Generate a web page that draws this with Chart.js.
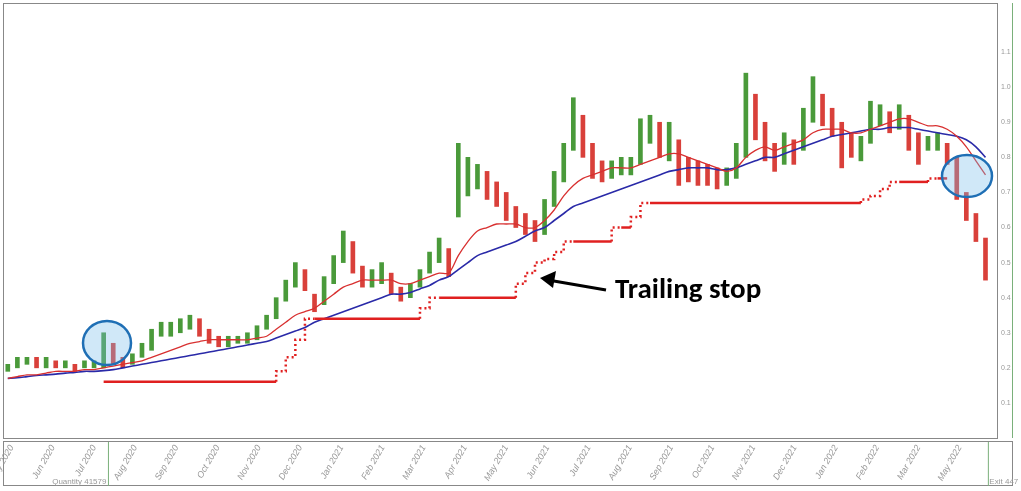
<!DOCTYPE html>
<html>
<head>
<meta charset="utf-8">
<script src="https://cdn.jsdelivr.net/npm/chart.js@4"></script>
<style>
  body { margin: 0; background: #fff; }
  #wrap { width: 1021px; height: 491px; }
</style>
</head>
<body>
<div id="wrap"><canvas id="c"></canvas></div>
<script>
// weekly bars, May 2020 - May 2022
const closes = [
  0.20,0.22,0.22,0.21,0.22,0.21,0.21,0.20,0.21,0.21,
  0.27,0.23,0.21,0.23,0.25,0.29,0.31,0.31,0.32,0.33,
  0.31,0.29,0.27,0.28,0.28,0.28,0.31,0.33,0.37,0.44,
  0.47,0.44,0.37,0.44,0.49,0.56,0.50,0.45,0.46,0.47,
  0.43,0.41,0.43,0.47,0.51,0.55,0.49,0.72,0.72,0.76,
  0.72,0.70,0.65,0.63,0.61,0.58,0.66,0.73,0.80,0.93,
  0.85,0.78,0.76,0.77,0.78,0.78,0.86,0.88,0.85,0.88,
  0.79,0.77,0.76,0.75,0.74,0.74,0.80,0.95,0.88,0.84,
  0.79,0.84,0.82,0.90,0.98,0.93,0.90,0.86,0.83,0.83,
  0.93,0.93,0.90,0.93,0.88,0.84,0.84,0.85,0.80,0.72,
  0.66,0.60,0.54
];
const highs = [
  0.21,0.23,0.23,0.23,0.23,0.22,0.22,0.21,0.22,0.22,
  0.30,0.27,0.23,0.24,0.27,0.31,0.33,0.33,0.34,0.35,
  0.34,0.31,0.29,0.29,0.29,0.30,0.32,0.35,0.40,0.45,
  0.50,0.48,0.41,0.46,0.52,0.59,0.56,0.49,0.48,0.50,
  0.47,0.43,0.44,0.48,0.53,0.57,0.54,0.84,0.80,0.78,
  0.76,0.73,0.70,0.66,0.64,0.62,0.68,0.76,0.84,0.97,
  0.92,0.84,0.79,0.79,0.80,0.80,0.91,0.92,0.90,0.90,
  0.85,0.80,0.79,0.78,0.77,0.77,0.84,1.04,0.98,0.90,
  0.84,0.87,0.85,0.94,1.03,0.98,0.94,0.90,0.87,0.86,
  0.96,0.95,0.93,0.95,0.92,0.87,0.86,0.87,0.84,0.80,
  0.70,0.64,0.57
];
const lows = [
  0.19,0.20,0.21,0.20,0.20,0.20,0.20,0.19,0.20,0.20,
  0.20,0.21,0.20,0.21,0.23,0.25,0.29,0.29,0.30,0.31,
  0.29,0.27,0.26,0.26,0.27,0.27,0.28,0.31,0.34,0.39,
  0.43,0.42,0.36,0.38,0.44,0.50,0.47,0.43,0.43,0.44,
  0.41,0.39,0.40,0.43,0.47,0.50,0.46,0.63,0.69,0.71,
  0.68,0.66,0.62,0.60,0.58,0.56,0.58,0.66,0.73,0.82,
  0.80,0.74,0.73,0.74,0.75,0.75,0.78,0.84,0.80,0.79,
  0.72,0.73,0.72,0.72,0.71,0.72,0.74,0.80,0.85,0.79,
  0.76,0.78,0.78,0.82,0.90,0.89,0.86,0.77,0.80,0.79,
  0.84,0.89,0.87,0.88,0.82,0.78,0.82,0.82,0.78,0.68,
  0.62,0.56,0.45
];
const fastMA = [
  0.17,0.175,0.18,0.18,0.185,0.19,0.19,0.19,0.195,0.195,
  0.20,0.205,0.21,0.215,0.22,0.23,0.24,0.25,0.26,0.27,
  0.275,0.28,0.28,0.28,0.28,0.28,0.285,0.29,0.31,0.33,
  0.35,0.36,0.37,0.39,0.41,0.43,0.44,0.45,0.45,0.45,
  0.45,0.44,0.44,0.45,0.46,0.47,0.47,0.52,0.56,0.59,
  0.60,0.61,0.61,0.61,0.60,0.60,0.62,0.65,0.69,0.72,
  0.74,0.75,0.76,0.77,0.77,0.77,0.78,0.79,0.80,0.81,
  0.81,0.80,0.79,0.78,0.77,0.76,0.77,0.80,0.82,0.83,
  0.82,0.83,0.84,0.85,0.87,0.88,0.88,0.88,0.87,0.87,
  0.88,0.89,0.90,0.91,0.91,0.90,0.89,0.89,0.88,0.86,
  0.83,0.79,0.75
];
const slowMA = [
  0.17,0.172,0.175,0.178,0.18,0.182,0.185,0.187,0.19,0.19,
  0.192,0.195,0.20,0.205,0.21,0.215,0.22,0.225,0.23,0.235,
  0.24,0.245,0.25,0.255,0.26,0.265,0.27,0.275,0.285,0.295,
  0.305,0.315,0.33,0.34,0.35,0.36,0.37,0.38,0.39,0.40,
  0.41,0.41,0.415,0.425,0.435,0.45,0.46,0.48,0.50,0.52,
  0.53,0.54,0.55,0.56,0.575,0.59,0.60,0.62,0.64,0.66,
  0.67,0.68,0.69,0.70,0.71,0.72,0.73,0.74,0.75,0.76,
  0.765,0.77,0.77,0.77,0.765,0.765,0.77,0.78,0.79,0.80,
  0.80,0.81,0.82,0.83,0.84,0.85,0.86,0.865,0.87,0.875,
  0.88,0.88,0.885,0.885,0.885,0.88,0.875,0.87,0.865,0.86,
  0.85,0.83,0.80
];
const N = null;
const trailStop = [
  N,N,N,N,N,N,N,N,N,N,
  0.16,0.16,0.16,0.16,0.16,0.16,0.16,0.16,0.16,0.16,
  0.16,0.16,0.16,0.16,0.16,0.16,0.16,0.16,0.16,0.19,
  0.23,0.28,0.34,0.34,0.34,0.34,0.34,0.34,0.34,0.34,
  0.34,0.34,0.34,0.34,0.37,0.40,0.40,0.40,0.40,0.40,
  0.40,0.40,0.40,0.40,0.44,0.47,0.50,0.51,0.53,0.56,
  0.56,0.56,0.56,0.56,0.60,0.60,0.63,0.67,0.67,0.67,
  0.67,0.67,0.67,0.67,0.67,0.67,0.67,0.67,0.67,0.67,
  0.67,0.67,0.67,0.67,0.67,0.67,0.67,0.67,0.67,0.67,
  0.68,0.69,0.71,0.73,0.73,0.73,0.73,0.74,0.74,N,
  N,N,N
];
const monthPos = [0,4.3,8.6,12.9,17.2,21.5,25.8,30.1,34.4,38.7,43,47.3,51.6,55.9,60.2,64.5,68.8,73.1,77.4,81.7,86,90.3,94.6,98.9];
const monthLabels = ['May 2020','Jun 2020','Jul 2020','Aug 2020','Sep 2020','Oct 2020','Nov 2020','Dec 2020',
  'Jan 2021','Feb 2021','Mar 2021','Apr 2021','May 2021','Jun 2021','Jul 2021','Aug 2021','Sep 2021','Oct 2021',
  'Nov 2021','Dec 2021','Jan 2022','Feb 2022','Mar 2022','May 2022'];
const priceTicks = [0.1,0.2,0.3,0.4,0.5,0.6,0.7,0.8,0.9,1.0,1.1];

const xy = arr => arr.map((v, i) => ({x: i, y: v}));
const barColours = closes.map((c, i) => (i > 0 && c < closes[i - 1]) ? '#d9403a' : '#4a9a3a');

const decor = {
  id: 'decor',
  afterDraw(chart) {
    const ctx = chart.ctx, a = chart.chartArea, xs = chart.scales.x, ys = chart.scales.y;
    ctx.save();
    ctx.strokeStyle = '#888'; ctx.lineWidth = 1;
    ctx.strokeRect(a.left + 0.5, a.top + 0.5, a.right - a.left, a.bottom - a.top);
    ctx.strokeRect(a.left + 0.5, a.bottom + 3.5, 1012 - a.left, 44);
    ctx.strokeStyle = '#7ab07a';
    ctx.beginPath();
    ctx.moveTo(1012.5, 3); ctx.lineTo(1012.5, a.bottom);
    const x1 = xs.getPixelForValue(10.5), x2 = xs.getPixelForValue(102.3);
    ctx.moveTo(x1, a.bottom + 4); ctx.lineTo(x1, a.bottom + 48);
    ctx.moveTo(x2, a.bottom + 4); ctx.lineTo(x2, a.bottom + 48);
    ctx.stroke();
    ctx.fillStyle = '#999'; ctx.font = '8px Arial';
    ctx.textAlign = 'right'; ctx.fillText('Quantity 41579', x1 - 2, a.bottom + 46);
    ctx.textAlign = 'left'; ctx.fillText('Exit 447 bars', x2 + 1, a.bottom + 46);
    // price labels
    ctx.font = '7px Arial'; ctx.textBaseline = 'middle';
    priceTicks.forEach(v => ctx.fillText(v.toFixed(1), a.right + 4, ys.getPixelForValue(v)));
    // month labels
    ctx.font = 'italic 9px Arial'; ctx.textAlign = 'right';
    monthPos.forEach((p, i) => {
      ctx.save();
      ctx.translate(xs.getPixelForValue(p) + 4, a.bottom + 8);
      ctx.rotate(-Math.PI / 3);
      ctx.fillText(monthLabels[i], 0, 0);
      ctx.restore();
    });
    // circles
    const ell = (cx, cy, rx, ry) => {
      ctx.beginPath(); ctx.ellipse(cx, cy, rx, ry, 0, 0, Math.PI * 2);
      ctx.fillStyle = 'rgba(120,190,235,0.35)'; ctx.fill();
      ctx.strokeStyle = '#1f6fb5'; ctx.lineWidth = 2.5; ctx.stroke();
    };
    ell(107, 343, 24, 22);
    ell(967, 176, 25, 21);
    // annotation
    ctx.strokeStyle = '#000'; ctx.fillStyle = '#000'; ctx.lineWidth = 3;
    ctx.beginPath(); ctx.moveTo(606, 290); ctx.lineTo(548, 280); ctx.stroke();
    ctx.beginPath(); ctx.moveTo(540, 278); ctx.lineTo(556, 271); ctx.lineTo(553, 288); ctx.closePath(); ctx.fill();
    ctx.font = 'bold 29px Calibri, "Liberation Sans", Arial';
    ctx.textAlign = 'left'; ctx.textBaseline = 'middle';
    ctx.fillText('Trailing stop', 615, 291);
    ctx.restore();
  }
};

new Chart(document.getElementById('c'), {
  type: 'bar',
  data: {
    datasets: [
      { type: 'line', data: xy(trailStop), borderColor: '#e02020', borderWidth: 2.5, pointRadius: 0, stepped: 'after', spanGaps: false, order: 0,
        segment: { borderDash: ctx => ctx.p0.parsed.y !== ctx.p1.parsed.y ? [2, 3] : undefined } },
      { type: 'line', data: xy(fastMA), borderColor: '#d83030', borderWidth: 1.3, pointRadius: 0, tension: 0.3, order: 1 },
      { type: 'line', data: xy(slowMA), borderColor: '#2a2aa8', borderWidth: 1.6, pointRadius: 0, tension: 0.3, order: 2 },
      { type: 'bar', data: lows.map((l, i) => ({x: i, y: [l, highs[i]]})), backgroundColor: barColours,
        barThickness: 4, order: 3 }
    ]
  },
  options: {
    responsive: true, maintainAspectRatio: false, animation: false,
    layout: { padding: { left: 3, top: 3, right: 24, bottom: 53 } },
    plugins: { legend: { display: false }, tooltip: { enabled: false } },
    scales: {
      x: {
        type: 'linear', min: -0.5, max: 103.2, offset: false, display: false
      },
      y: {
        min: 0, max: 1.24, display: false
      }
    }
  },
  plugins: [decor]
});
</script>
</body>
</html>
